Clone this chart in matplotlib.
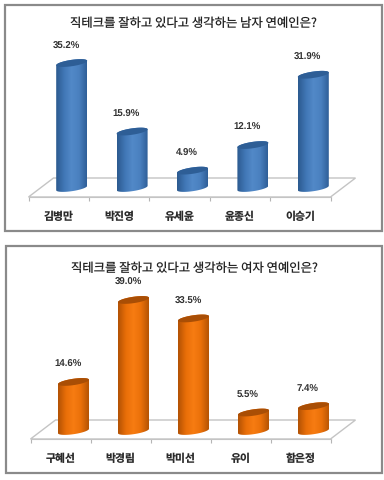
import numpy as np
import matplotlib
matplotlib.use("Agg")
import matplotlib.pyplot as plt
from matplotlib.colors import LinearSegmentedColormap
from matplotlib.patches import PathPatch, Polygon, Rectangle
from matplotlib.path import Path

plt.rcParams['font.family'] = ['Noto Sans CJK KR', 'DejaVu Sans']
plt.rcParams['text.hinting'] = 'none'

W, H = 384, 480

men_names = ["김병만", "박진영", "유세윤", "윤종신", "이승기"]
men_values = [35.2, 15.9, 4.9, 12.1, 31.9]
women_names = ["구혜선", "박경림", "박미선", "유이", "함은정"]
women_values = [14.6, 39.0, 33.5, 5.5, 7.4]

men_title = "직테크를 잘하고 있다고 생각하는 남자 연예인은?"
women_title = "직테크를 잘하고 있다고 생각하는 여자 연예인은?"

blue = ["#2c5a8f", "#4076b5", "#5289c8", "#4a80bf", "#2f5f98"]
orange = ["#b35204", "#e86e08", "#f77c12", "#ea7009", "#b55404"]


def draw_panel(fig, names, values, title, colors, top_color, frame, x0, x1, y_front, y_base, px_per_unit, title_y):
    # frame around the panel, all in pixels from top left
    fx0, fy0, fx1, fy1 = frame
    fig.add_artist(Rectangle((fx0 / W, 1 - fy1 / H), (fx1 - fx0) / W, (fy1 - fy0) / H,
                             transform=fig.transFigure, fill=False, ec="#8a8a8a", lw=1.6))
    fig.text((fx0 + fx1) / 2 / W, 1 - title_y / H, title, ha="center", va="center",
             fontsize=8.9, fontweight="medium", color="#222222")

    y_top = fy0 + 30
    ax = fig.add_axes([x0 / W, 1 - y_front / H, (x1 - x0) / W, (y_front - y_top) / H])
    ax.patch.set_alpha(0)
    px_x = (x1 - x0) / len(names)

    ylo = (y_base - y_front) / px_per_unit
    yhi = (y_base - y_top) / px_per_unit

    # floor of the chart, drawn behind the bars
    skew = 25 / px_x
    back = 19 / px_per_unit + ylo
    ax.add_patch(Polygon([(-0.5, ylo), (-0.5 + skew, back), (4.5 + skew, back), (4.5, ylo)],
                         closed=True, fill=False, ec="#c4c4c4", lw=1, clip_on=False, zorder=1))

    # bars stand in the middle of the floor depth, right of their tick band
    depth = 13 / px_x
    a = 15.5 / px_x
    b = 3.2 / px_per_unit
    tilt = 2.2 / px_per_unit
    cmap = LinearSegmentedColormap.from_list("cyl", colors)
    grad = np.linspace(0, 1, 64).reshape(1, -1)

    for i, v in enumerate(values):
        c = i + depth
        t1 = np.linspace(np.pi, 2 * np.pi, 40)
        t2 = np.linspace(0, np.pi, 40)
        bx = c + a * np.cos(t1)
        by = b * np.sin(t1) + tilt * np.cos(t1)
        tx = c + a * np.cos(t2)
        ty = v + b * np.sin(t2) + tilt * np.cos(t2)
        verts = np.vstack([np.column_stack([bx, by]), np.column_stack([tx, ty]), [[bx[0], by[0]]]])
        codes = [Path.MOVETO] + [Path.LINETO] * (len(verts) - 2) + [Path.CLOSEPOLY]
        body = PathPatch(Path(verts, codes), fc="none", ec="none", transform=ax.transData)
        ax.add_patch(body)
        im = ax.imshow(grad, cmap=cmap, aspect="auto", extent=(c - a, c + a, -b - tilt, v + b + tilt), zorder=3)
        im.set_clip_path(body)

        t = np.linspace(0, 2 * np.pi, 80)
        ax.fill(c + a * np.cos(t), v + b * np.sin(t) + tilt * np.cos(t), color=top_color, lw=0, zorder=4)

        ax.annotate(f"{v:.1f}%", (c, v), xytext=(-4, 12.4), textcoords="offset points",
                    ha="center", va="center", fontsize=6.9, fontweight="bold",
                    family="Liberation Sans", color="#333333")

    ax.set_xlim(-0.5, len(names) - 0.5)
    ax.set_ylim(ylo, yhi)
    ax.set_xticks(range(len(names)))
    ax.set_xticklabels(names, fontsize=7.8, fontweight="bold", color="#2a2a2a")
    ax.set_xticks(np.arange(-0.5, len(names)), minor=True)
    ax.tick_params(axis="x", which="major", length=0, pad=10)
    ax.tick_params(axis="x", which="minor", length=2.6, color="#b5b5b5", width=0.8)
    ax.set_yticks([])
    for s in ["top", "left", "right"]:
        ax.spines[s].set_visible(False)
    ax.spines["bottom"].set_color("#c4c4c4")


fig = plt.figure(figsize=(W / 100, H / 100), dpi=100, facecolor="white")

draw_panel(fig, men_names, men_values, men_title, blue, "#2e5e96",
           (5, 5, 382, 231), 28.5, 330.5, 197, 188, 3.55, 23)
draw_panel(fig, women_names, women_values, women_title, orange, "#a94e05",
           (6, 246, 382, 473), 30.5, 330.5, 439, 431, 3.36, 268)

fig.savefig("out.png", dpi=100)
